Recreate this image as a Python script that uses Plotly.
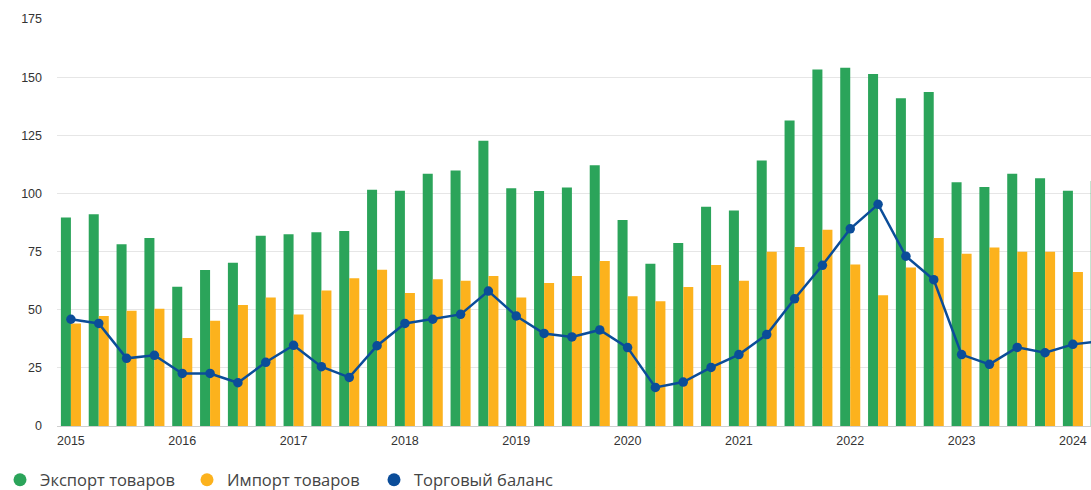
import plotly.graph_objects as go

quarters = [f"{y} Q{q}" for y in range(2015, 2025) for q in range(1, 5)][:38]

export_goods = [89.7, 91.1, 78.1, 80.8, 59.9, 67.1, 70.2, 81.8,
                82.4, 83.3, 83.8, 101.6, 101.2, 108.5, 109.9, 122.7,
                102.2, 101.0, 102.6, 112.1, 88.6, 69.8, 78.7, 94.3,
                92.7, 114.2, 131.4, 153.3, 154.0, 151.3, 140.9, 143.6,
                104.8, 102.8, 108.5, 106.5, 101.2, 105.3]
import_goods = [44.1, 47.3, 49.6, 50.4, 37.8, 45.3, 52.0, 55.2,
                47.9, 58.3, 63.5, 67.2, 57.2, 63.1, 62.5, 64.5,
                55.2, 61.5, 64.5, 70.9, 55.8, 53.6, 59.8, 69.2,
                62.5, 74.9, 77.0, 84.4, 69.4, 56.2, 68.2, 80.8,
                74.1, 76.7, 74.9, 74.9, 66.2, 68.8]
trade_balance = [45.9, 44.1, 29.1, 30.4, 22.6, 22.6, 18.6, 27.4,
                 34.7, 25.5, 20.9, 34.5, 44.1, 45.9, 48.0, 58.0,
                 47.3, 39.8, 38.3, 41.3, 33.7, 16.6, 18.9, 25.2,
                 30.7, 39.3, 54.7, 69.1, 84.8, 95.3, 73.0, 62.9,
                 30.7, 26.5, 33.8, 31.5, 35.1, 36.5]

year_ticks = [q for q in quarters if q.endswith("Q1")]
year_labels = [q.split()[0] for q in year_ticks]
y_ticks = [0, 25, 50, 75, 100, 125, 150, 175]

names = ["Экспорт товаров", "Импорт товаров", "Торговый баланс"]
GREEN = "#2ba45a"
ORANGE = "#fcb21d"
BLUE = "#0b4d99"

fig = go.Figure()
fig.add_trace(go.Bar(x=quarters, y=export_goods, name=names[0],
                     marker=dict(color=GREEN, line=dict(width=0)),
                     showlegend=False))
fig.add_trace(go.Bar(x=quarters, y=import_goods, name=names[1],
                     marker=dict(color=ORANGE, line=dict(width=0)),
                     showlegend=False))
fig.add_trace(go.Scatter(x=quarters, y=trade_balance, name=names[2],
                         mode="lines+markers",
                         line=dict(color=BLUE, width=2.5),
                         marker=dict(color=BLUE, size=9.5),
                         showlegend=False))
# legend entries with round symbols
for nm, col in zip(names, [GREEN, ORANGE, BLUE]):
    fig.add_trace(go.Scatter(x=[None], y=[None], name=nm, mode="markers",
                             marker=dict(color=col, size=13, symbol="circle")))

fig.update_layout(
    width=1091, height=490,
    margin=dict(l=57, r=0, t=19, b=64, autoexpand=False),
    paper_bgcolor="white", plot_bgcolor="white",
    barmode="group", bargap=0.28, bargroupgap=0,
    font=dict(family="Liberation Sans, Arial, sans-serif", color="#333333", size=12.5),
    legend=dict(orientation="h", xref="container", x=0, xanchor="left",
                yref="container", y=10 / 490, yanchor="middle",
                font=dict(family="Open Sans, Noto Sans, sans-serif", size=16.5, color="#444444"),
                entrywidth=142, entrywidthmode="pixels",
                itemclick=False, tracegroupgap=0),
    xaxis=dict(type="category", categoryorder="array", categoryarray=quarters,
               range=[-0.5, 36.65], tickmode="array", tickvals=year_ticks,
               ticktext=year_labels, showgrid=False, showline=False, automargin=False,
               ticks="", ticklabelstandoff=5, tickfont=dict(size=12.5, color="#333333")),
    yaxis=dict(range=[0, 175], tickmode="array", tickvals=y_ticks, automargin=False,
               showgrid=True, gridcolor="#e6e6e6", gridwidth=1,
               zeroline=True, zerolinecolor="#cfcfcf", zerolinewidth=1,
               ticks="", ticklabelstandoff=14, tickfont=dict(size=12.5, color="#333333")),
)

fig.write_html("out.html", config={"displayModeBar": False},
               post_script="document.body.style.margin='0px';document.body.style.overflow='hidden';")
